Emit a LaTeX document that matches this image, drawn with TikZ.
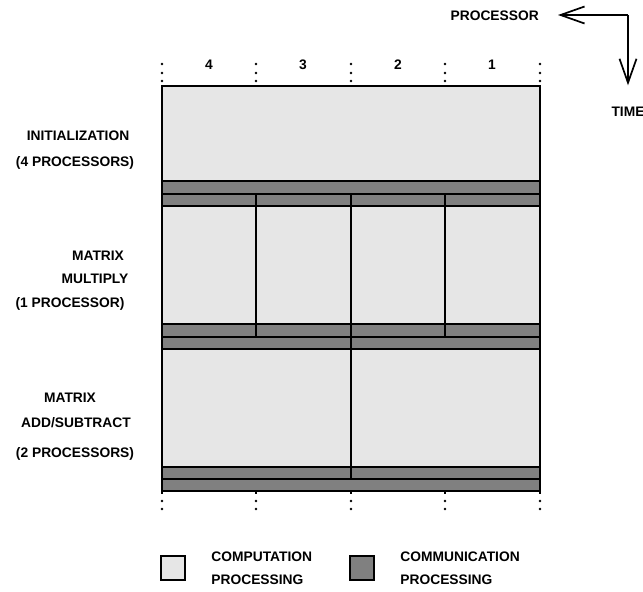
\documentclass[tikz,border=0pt]{standalone}
\usepackage{fontspec}
\setmainfont{Liberation Sans}
\usepackage{tikz}
\usetikzlibrary{arrows.meta, positioning}
\definecolor{compfill}{HTML}{E6E6E6}
\definecolor{commfill}{HTML}{808080}
\tikzset{
  compute/.style={fill=compfill, draw=black},
  comm/.style={fill=commfill, draw=black},
  lab/.style={font=\bfseries\fontsize{13.8}{16}\selectfont, inner sep=0pt},
  keybox/.style={draw=black, line width=2.4pt, minimum size=24pt, inner sep=0pt},
  axisarrow/.style={line width=1.7pt, -{Straight Barb[length=24pt,width=17pt]}}
}

\begin{document}
\begin{tikzpicture}[x=1pt, y=-1pt, line width=2.4pt]
  \useasboundingbox (0,0) rectangle (643,592);
  \node[lab, anchor=base east] (proc) at (540,20) {PROCESSOR};
  \node[lab, anchor=base] (time) at (628,116) {TIME};
  \coordinate (corner) at (628,15);
  \draw[axisarrow, shorten >=18pt] (corner) -- (corner -| proc.east);
  \draw[axisarrow, shorten >=20pt] (corner) -- (time.north);
  \draw[compute] (162,86) rectangle (540,181);
  \draw[comm] (162,181) rectangle (540,194);
  \foreach \a/\b in {162/256, 256/351, 351/445, 445/540} {
    \draw[comm] (\a,194) rectangle (\b,206);
    \draw[compute] (\a,206) rectangle (\b,324);
    \draw[comm] (\a,324) rectangle (\b,337);
  }
  \foreach \a/\b in {162/351, 351/540} {
    \draw[comm] (\a,337) rectangle (\b,349);
    \draw[compute] (\a,349) rectangle (\b,467);
    \draw[comm] (\a,467) rectangle (\b,479);
  }
  \draw[comm] (162,479) rectangle (540,491);
  \foreach \x in {162,256,351,445,540} {
    \foreach \y in {64,73,81,501,509}
      \fill (\x,\y) circle (1.4pt);
    \draw (\x,491) -- (\x,494);
  }
  \foreach \x/\n in {209/4, 303/3, 398/2, 492/1}
    \node[lab, anchor=base] (col\n) at (\x,69) {\n};
  \foreach \x/\y/\txt [count=\i] in {78/140/INITIALIZATION, 75/166/(4 PROCESSORS),
      98/260/MATRIX, 95/283/MULTIPLY, 70/307/(1 PROCESSOR),
      70/402/MATRIX, 76/427/{ADD/SUBTRACT}, 75/457/(2 PROCESSORS)}
    \node[lab, anchor=base] (phase\i) at (\x,\y) {\txt};
  \node[keybox, fill=compfill] (compkey) at (173,568) {};
  \node[keybox, fill=commfill] (commkey) at (362,568) {};
  \node[lab, align=left, right=24pt of compkey] (compkeytxt) {COMPUTATION\\[7pt]PROCESSING};
  \node[lab, align=left, right=24pt of commkey] (commkeytxt) {COMMUNICATION\\[7pt]PROCESSING};
\end{tikzpicture}
\end{document}
